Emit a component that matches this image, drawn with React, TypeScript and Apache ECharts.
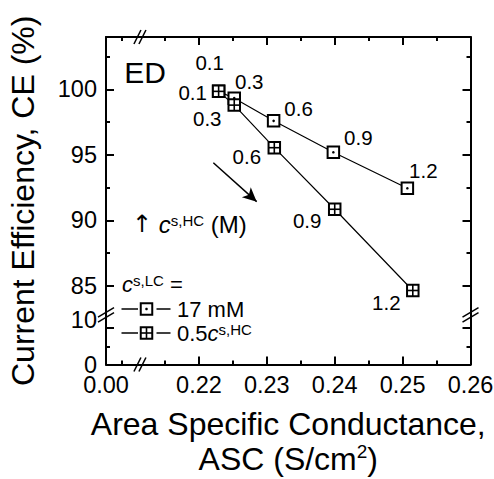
import React, { useEffect, useRef } from "react";
import * as echarts from "echarts";

// ---------- data ----------
const concentrations = ["0.1", "0.3", "0.6", "0.9", "1.2"];
const ascLC17 = [0.2229, 0.2252, 0.231, 0.2398, 0.2507];
const ceLC17 = [99.85, 99.33, 97.6, 95.2, 92.45];
const ascLCHalf = [0.2229, 0.2252, 0.2311, 0.24, 0.2515];
const ceLCHalf = [99.85, 98.8, 95.55, 90.85, 84.65];

const xMajorTicks = [0, 0.22, 0.23, 0.24, 0.25, 0.26];
const xTickLabels = ["0.00", "0.22", "0.23", "0.24", "0.25", "0.26"];
const xMinorTicks = [0.005, 0.215, 0.225, 0.235, 0.245, 0.255];
const yMajorTicks = [0, 10, 85, 90, 95, 100];
const yTickLabels = ["0", "10", "85", "90", "95", "100"];
const yMinorTicks = [5, 87.5, 92.5, 97.5, 102.5];
const xBreakAt = 0.0106;
const yBreakAt = 13.6;
const arrowFrom = [0.22212, 94.4];
const arrowTo = [0.22851, 91.43];

// ---------- layout / style (not data) ----------
const labelOffsetsLC17 = [[-9, -29], [15, -17], [25, -12.5], [25, -14.5], [16, -18]];
const labelOffsetsLCHalf = [[-26, 1], [-27, 13], [-27.5, 9], [-27.5, 11.5], [-26.5, 12]];
const FONT = '"Liberation Sans", Arial, Helvetica, sans-serif';

// broken axes: a linear "virtual" scale, low segment compressed
const X_MIN_V = 0.20631;
const X_MAX_V = 0.26;
const X_LOW_SCALE = 0.4714;
const Y_MIN_V = 79;
const Y_MAX_V = 104;
const Y_LOW_SCALE = 0.2786;
const vx = (r: number) => (r > 0.1 ? r : X_MIN_V + r * X_LOW_SCALE);
const vy = (r: number) => (r > 50 ? r : Y_MIN_V + r * Y_LOW_SCALE);

const nearestIndex = (v: number, ticks: number[], map: (n: number) => number) => {
  let best = 0;
  for (let i = 1; i < ticks.length; i++) {
    if (Math.abs(map(ticks[i]) - v) < Math.abs(map(ticks[best]) - v)) best = i;
  }
  return best;
};

const lineBlack = { color: "#000", width: 2 };

function makeXAxis(position: string, major: boolean, showLine: boolean, showLabels: boolean) {
  const vals = (major ? xMajorTicks : xMinorTicks).map(vx);
  return {
    type: "value",
    gridIndex: 0,
    position,
    min: X_MIN_V,
    max: X_MAX_V,
    splitLine: { show: false },
    axisLine: { show: showLine, onZero: false, lineStyle: lineBlack },
    axisTick: { show: true, inside: true, length: major ? 8 : 4, lineStyle: lineBlack, customValues: vals },
    axisLabel: {
      show: showLabels,
      customValues: vals,
      color: "#000",
      fontSize: 23.5,
      lineHeight: 18,
      fontFamily: FONT,
      margin: 11.5,
      formatter: (v: number) => xTickLabels[nearestIndex(v, xMajorTicks, vx)],
    },
  };
}

function makeYAxis(position: string, major: boolean, showLine: boolean, showLabels: boolean) {
  const vals = (major ? yMajorTicks : yMinorTicks).map(vy);
  return {
    type: "value",
    gridIndex: 0,
    position,
    min: Y_MIN_V,
    max: Y_MAX_V,
    splitLine: { show: false },
    axisLine: { show: showLine, onZero: false, lineStyle: lineBlack },
    axisTick: { show: true, inside: true, length: major ? 8 : 4, lineStyle: lineBlack, customValues: vals },
    axisLabel: {
      show: showLabels,
      customValues: vals,
      color: "#000",
      fontSize: 23.5,
      lineHeight: 18,
      fontFamily: FONT,
      margin: 9,
      formatter: (v: number) => {
        const i = nearestIndex(v, yMajorTicks, vy);
        // the "10" label sits a little above its tick, as in the original
        return yTickLabels[i] === "10" ? "{up|10}" : yTickLabels[i];
      },
      rich: {
        up: { fontSize: 23.5, fontFamily: FONT, color: "#000", lineHeight: 18, padding: [0, 0, 16, 0] },
      },
    },
  };
}

function markerSeries(xs: number[], ys: number[], kind: "dot" | "cross", offsets: number[][], z: number) {
  return {
    type: "custom",
    coordinateSystem: "cartesian2d",
    xAxisIndex: 0,
    yAxisIndex: 0,
    z,
    data: xs.map((x, i) => [x, ys[i]]),
    renderItem: (params: any, api: any) => {
      const p = api.coord([api.value(0), api.value(1)]);
      const s = 11.5;
      const children: any[] = [
        {
          type: "rect",
          shape: { x: p[0] - s / 2, y: p[1] - s / 2, width: s, height: s },
          style: { fill: "#fff", stroke: "#000", lineWidth: 2 },
        },
      ];
      if (kind === "dot") {
        children.push({ type: "circle", shape: { cx: p[0], cy: p[1], r: 1.3 }, style: { fill: "#000" } });
      } else {
        children.push({
          type: "line",
          shape: { x1: p[0] - s / 2, y1: p[1], x2: p[0] + s / 2, y2: p[1] },
          style: { stroke: "#000", lineWidth: 1.6 },
        });
        children.push({
          type: "line",
          shape: { x1: p[0], y1: p[1] - s / 2, x2: p[0], y2: p[1] + s / 2 },
          style: { stroke: "#000", lineWidth: 1.6 },
        });
      }
      const off = offsets[params.dataIndex];
      children.push({
        type: "text",
        x: p[0] + off[0],
        y: p[1] + off[1],
        style: {
          text: concentrations[params.dataIndex],
          fill: "#000",
          fontSize: 20.5,
          fontFamily: FONT,
          align: "center",
          verticalAlign: "middle",
        },
      });
      return { type: "group", children };
    },
  };
}

export default function App() {
  const ref = useRef<HTMLDivElement>(null);
  useEffect(() => {
    if (!ref.current) return;
    const chart = echarts.init(ref.current, null, { renderer: "svg" });
    const option: any = {
      animation: false,
      backgroundColor: "#fff",
      grid: { left: 106, top: 37, right: 23.5, bottom: 114.5, outerBoundsMode: "none", containLabel: false },
      xAxis: [
        {
          ...makeXAxis("bottom", true, true, true),
          name: "{n|Area Specific Conductance,}\n{n|ASC (S/cm}{s|2}{n|)}",
          nameLocation: "middle",
          nameGap: 42,
          nameTextStyle: {
            rich: {
              n: { fontSize: 32, fontFamily: FONT, color: "#000", lineHeight: 35 },
              s: { fontSize: 19, fontFamily: FONT, color: "#000", verticalAlign: "top", lineHeight: 35 },
            },
          },
        },
        makeXAxis("bottom", false, false, false),
        makeXAxis("top", true, true, false),
        makeXAxis("top", false, false, false),
      ],
      yAxis: [
        {
          ...makeYAxis("left", true, true, true),
          name: "Current Efficiency, CE (%)",
          nameLocation: "middle",
          nameRotate: 90,
          nameGap: 67,
          nameTextStyle: { fontSize: 32, fontFamily: FONT, color: "#000" },
        },
        makeYAxis("left", false, false, false),
        makeYAxis("right", true, true, false),
        makeYAxis("right", false, false, false),
      ],
      series: [
        {
          type: "line",
          xAxisIndex: 0,
          yAxisIndex: 0,
          data: ascLC17.map((x, i) => [x, ceLC17[i]]),
          symbol: "none",
          lineStyle: { color: "#000", width: 1.2 },
          z: 2,
          markLine: {
            silent: true,
            symbol: ["none", "arrow"],
            symbolSize: [10, 14],
            lineStyle: { color: "#000", width: 1.5, type: "solid" },
            label: { show: false },
            data: [[{ coord: arrowFrom }, { coord: arrowTo }]],
          },
        },
        {
          type: "line",
          xAxisIndex: 0,
          yAxisIndex: 0,
          data: ascLCHalf.map((x, i) => [x, ceLCHalf[i]]),
          symbol: "none",
          lineStyle: { color: "#000", width: 1.2 },
          z: 2,
        },
        markerSeries(ascLC17, ceLC17, "dot", labelOffsetsLC17, 5),
        markerSeries(ascLCHalf, ceLCHalf, "cross", labelOffsetsLCHalf, 6),
      ],
    };
    chart.setOption(option);

    const left = chart.convertToPixel({ xAxisIndex: 0 }, X_MIN_V) as number;
    const right = chart.convertToPixel({ xAxisIndex: 0 }, X_MAX_V) as number;
    const top = chart.convertToPixel({ yAxisIndex: 0 }, Y_MAX_V) as number;
    const bottom = chart.convertToPixel({ yAxisIndex: 0 }, Y_MIN_V) as number;
    const bx = chart.convertToPixel({ xAxisIndex: 0 }, vx(xBreakAt)) as number;
    const by = chart.convertToPixel({ yAxisIndex: 0 }, vy(yBreakAt)) as number;

    const xBreak = (cx: number, cy: number) => ({
      type: "group",
      children: [
        { type: "rect", shape: { x: cx - 2.5, y: cy - 2, width: 5, height: 4 }, style: { fill: "#fff" } },
        { type: "line", shape: { x1: cx - 6, y1: cy + 7, x2: cx + 1, y2: cy - 7 }, style: { stroke: "#000", lineWidth: 1.5 } },
        { type: "line", shape: { x1: cx - 1, y1: cy + 7, x2: cx + 6, y2: cy - 7 }, style: { stroke: "#000", lineWidth: 1.5 } },
      ],
    });
    const yBreak = (cx: number, cy: number) => ({
      type: "group",
      children: [
        { type: "rect", shape: { x: cx - 2, y: cy - 2.5, width: 4, height: 5 }, style: { fill: "#fff" } },
        { type: "line", shape: { x1: cx - 8, y1: cy + 2.3, x2: cx + 8, y2: cy - 7.3 }, style: { stroke: "#000", lineWidth: 1.5 } },
        { type: "line", shape: { x1: cx - 8, y1: cy + 7.3, x2: cx + 8, y2: cy - 2.3 }, style: { stroke: "#000", lineWidth: 1.5 } },
      ],
    });

    const txt = (x: number, y: number, text: string, rich: any, extra: any = {}) => ({
      type: "text",
      x,
      y,
      z: 10,
      style: { text, rich, align: "left", verticalAlign: "middle", fill: "#000", fontFamily: FONT, ...extra },
    });
    const richBase = (fs: number) => ({
      a: { fontSize: fs, fontFamily: '"DejaVu Sans", sans-serif', color: "#000", lineHeight: 22 },
      n: { fontSize: fs, fontFamily: FONT, color: "#000", lineHeight: 22 },
      i: { fontSize: fs, fontFamily: FONT, color: "#000", fontStyle: "italic", lineHeight: 22 },
      s: { fontSize: 15, fontFamily: FONT, color: "#000", verticalAlign: "top", lineHeight: 22 },
    });
    const legendMarker = (cx: number, cy: number, kind: "dot" | "cross") => {
      const s = 11.5;
      const ch: any[] = [
        { type: "line", shape: { x1: cx - 25, y1: cy, x2: cx - 8.5, y2: cy }, style: { stroke: "#000", lineWidth: 1.5 } },
        { type: "line", shape: { x1: cx + 10, y1: cy, x2: cx + 24, y2: cy }, style: { stroke: "#000", lineWidth: 1.5 } },
        { type: "rect", shape: { x: cx - s / 2, y: cy - s / 2, width: s, height: s }, style: { fill: "#fff", stroke: "#000", lineWidth: 2 } },
      ];
      if (kind === "dot") ch.push({ type: "circle", shape: { cx, cy, r: 1.3 }, style: { fill: "#000" } });
      else {
        ch.push({ type: "line", shape: { x1: cx - s / 2, y1: cy, x2: cx + s / 2, y2: cy }, style: { stroke: "#000", lineWidth: 1.6 } });
        ch.push({ type: "line", shape: { x1: cx, y1: cy - s / 2, x2: cx, y2: cy + s / 2 }, style: { stroke: "#000", lineWidth: 1.6 } });
      }
      return { type: "group", z: 10, children: ch };
    };

    chart.setOption({
      graphic: [
        xBreak(bx, bottom),
        xBreak(bx, top),
        yBreak(left, by),
        yBreak(right, by),
        txt(145, 72, "ED", null, { fontSize: 30, align: "center" }),
        txt(132, 224, "{a|\u2191}{n| }{i|c}{s|s,HC}{n| (M)}", richBase(24)),
        txt(122, 284, "{i|c}{s|s,LC}{n| =}", richBase(22)),
        legendMarker(146.5, 309, "dot"),
        txt(177, 309, "{n|17 mM}", richBase(22)),
        legendMarker(146.5, 333, "cross"),
        txt(177, 333, "{n|0.5}{i|c}{s|s,HC}", richBase(22)),
      ],
    });

    return () => chart.dispose();
  }, []);
  return (
    <div
      ref={ref}
      style={{ position: "fixed", left: 0, top: 0, width: 494, height: 479, background: "#fff" }}
    />
  );
}
